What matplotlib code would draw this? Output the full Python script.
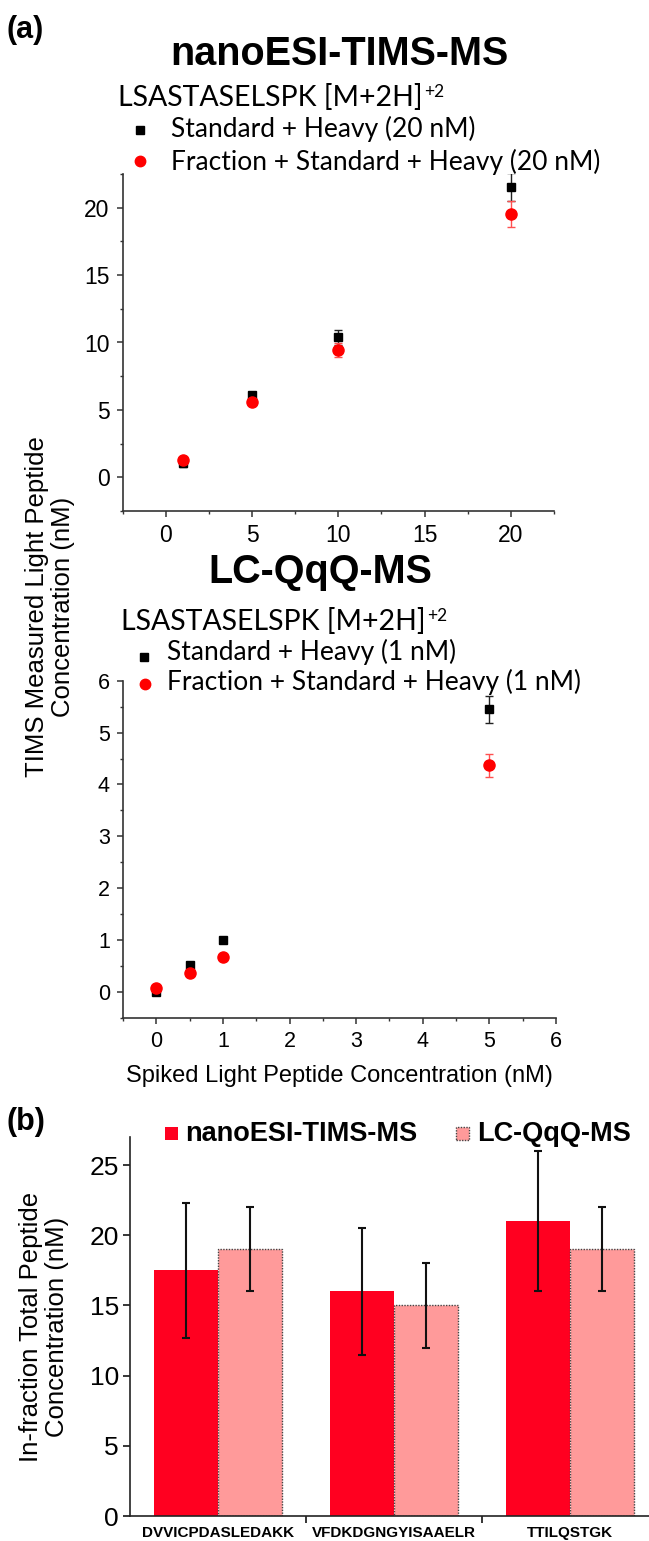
import matplotlib
matplotlib.use("Agg")
import matplotlib.pyplot as plt
from matplotlib.lines import Line2D
from matplotlib.patches import Rectangle
from matplotlib.ticker import MultipleLocator, FixedLocator

# ---------------- data ----------------
tims_x = [1, 5, 10, 20]
tims_std = [1.03, 6.1, 10.4, 21.55]
tims_std_err = [0.25, 0.25, 0.55, 1.05]
tims_frac = [1.28, 5.6, 9.45, 19.55]
tims_frac_err = [0.2, 0.2, 0.5, 0.95]

qqq_x = [0, 0.5, 1, 5]
qqq_std = [0.0, 0.52, 1.0, 5.45]
qqq_std_err = [0.03, 0.05, 0.03, 0.26]
qqq_frac = [0.08, 0.37, 0.68, 4.37]
qqq_frac_err = [0.03, 0.06, 0.04, 0.22]

peptides = ["DVVICPDASLEDAKK", "VFDKDGNGYISAAELR", "TTILQSTGK"]
bar_tims = [17.5, 16.0, 21.0]
bar_tims_err = [4.8, 4.5, 5.0]
bar_qqq = [19.0, 15.0, 19.0]
bar_qqq_err = [3.0, 3.0, 3.0]

# ---------------- style ----------------
W, H = 649, 1541
plt.rcParams["font.family"] = ["Liberation Sans", "DejaVu Sans"]
RED = "#FF0020"
PINK = "#FF9A9A"
CAL = ["Lato", "DejaVu Sans"]

fig = plt.figure(figsize=(W / 100, H / 100), dpi=100)


def fx(x):
    return x / W


def fy(y):
    return 1 - y / H


def ax_rect(l, r, t, b):
    return [fx(l), fy(b), (r - l) / W, (b - t) / H]


def style_axes(ax, labelsize):
    for s in ["top", "right"]:
        ax.spines[s].set_visible(False)
    for s in ["left", "bottom"]:
        ax.spines[s].set_linewidth(1.2)
        ax.spines[s].set_color("#333333")
    ax.tick_params(which="major", direction="out", length=4.5, width=1.1,
                   labelsize=labelsize, color="#333333", pad=5)
    ax.tick_params(which="minor", direction="out", length=2.5, width=1.0,
                   color="#333333")


# ---------------- top: nanoESI-TIMS-MS ----------------
ax1 = fig.add_axes(ax_rect(122.7, 554, 174, 511))
style_axes(ax1, 16.5)
ax1.errorbar(tims_x, tims_std, yerr=tims_std_err, fmt="s", color="black",
             ms=6, ecolor="#222222", elinewidth=1, capsize=3, zorder=3)
ax1.errorbar(tims_x, tims_frac, yerr=tims_frac_err, fmt="o", color="red",
             ms=8, ecolor="#FF5050", elinewidth=1, capsize=3, zorder=4)
ax1.set_xlim(-2.5, 22.5)
ax1.set_ylim(-2.5, 22.5)
ax1.xaxis.set_major_locator(MultipleLocator(5))
ax1.xaxis.set_minor_locator(MultipleLocator(2.5))
ax1.yaxis.set_major_locator(MultipleLocator(5))
ax1.yaxis.set_minor_locator(MultipleLocator(2.5))

# ---------------- middle: LC-QqQ-MS ----------------
ax2 = fig.add_axes(ax_rect(123, 556, 680.7, 1018))
style_axes(ax2, 15.5)
ax2.errorbar(qqq_x, qqq_std, yerr=qqq_std_err, fmt="s", color="black",
             ms=6, ecolor="#222222", elinewidth=1, capsize=3, zorder=3)
ax2.errorbar(qqq_x, qqq_frac, yerr=qqq_frac_err, fmt="o", color="red",
             ms=8, ecolor="#FF5050", elinewidth=1, capsize=3, zorder=4)
ax2.set_xlim(-0.5, 6)
ax2.set_ylim(-0.5, 6)
ax2.xaxis.set_major_locator(MultipleLocator(1))
ax2.xaxis.set_minor_locator(MultipleLocator(0.5))
ax2.yaxis.set_major_locator(MultipleLocator(1))
ax2.yaxis.set_minor_locator(MultipleLocator(0.5))
ax2.set_xlabel("Spiked Light Peptide Concentration (nM)", fontsize=17,
               labelpad=9)

# shared y label
fig.text(fx(50), fy(607), "TIMS Measured Light Peptide\nConcentration (nM)",
         rotation=90, ha="center", va="center", fontsize=18.5, linespacing=1.1)

# titles
fig.text(fx(7), fy(15), "(a)", fontsize=22, fontweight="bold", va="top")
fig.text(fx(339), fy(65), "nanoESI-TIMS-MS", fontsize=28.5, fontweight="bold",
         ha="center", va="baseline")
fig.text(fx(320), fy(583), "LC-QqQ-MS", fontsize=28.5, fontweight="bold",
         ha="center", va="baseline")

renderer = fig.canvas.get_renderer()


def peptide_title(x, y):
    t = fig.text(fx(x), fy(y), "LSASTASELSPK [M+2H]", fontsize=20.5,
                 family=CAL, va="baseline")
    bb = t.get_window_extent(renderer)
    fig.text(bb.x1 / W + 0.003, fy(y - 9), "+2",
             fontsize=12.5, family=CAL, va="baseline")


def legend_entry(mx, my, marker, color, ms, tx, ty, label):
    fig.add_artist(Line2D([fx(mx)], [fy(my)], marker=marker, color=color,
                          ms=ms, ls="none", transform=fig.transFigure))
    fig.text(fx(tx), fy(ty), label, family=CAL, fontsize=19, va="baseline")


peptide_title(118, 106)
legend_entry(140, 130, "s", "black", 6, 171, 137, "Standard + Heavy (20 nM)")
legend_entry(140, 161, "o", "red", 7.5, 171, 170,
             "Fraction + Standard + Heavy (20 nM)")

peptide_title(121, 630)
legend_entry(144, 657, "s", "black", 6, 167, 660, "Standard + Heavy (1 nM)")
legend_entry(145, 684, "o", "red", 7.5, 167, 690,
             "Fraction + Standard + Heavy (1 nM)")

# ---------------- bottom: bar chart ----------------
ax3 = fig.add_axes(ax_rect(130, 658, 1137, 1516))
for s in ["top", "right"]:
    ax3.spines[s].set_visible(False)
for s in ["left", "bottom"]:
    ax3.spines[s].set_linewidth(1.2)
    ax3.spines[s].set_color("#222222")
xs = list(range(len(peptides)))
bw = 0.364
ax3.bar([x - bw / 2 for x in xs], bar_tims, width=bw, color=RED,
        edgecolor="none", zorder=2)
ax3.bar([x + bw / 2 for x in xs], bar_qqq, width=bw, color=PINK,
        edgecolor="#444444", linestyle=(0, (1, 1)), linewidth=1.0, zorder=2)
ax3.errorbar([x - bw / 2 for x in xs], bar_tims, yerr=bar_tims_err,
             fmt="none", ecolor="#111111", elinewidth=1.5, capsize=3,
             capthick=1.5, zorder=3)
ax3.errorbar([x + bw / 2 for x in xs], bar_qqq, yerr=bar_qqq_err,
             fmt="none", ecolor="#111111", elinewidth=1.5, capsize=3,
             capthick=1.5, zorder=3)
ax3.set_xlim(-0.5, 2.5)
ax3.set_ylim(0, 27)
ax3.yaxis.set_major_locator(MultipleLocator(5))
ax3.set_xticks(xs)
ax3.set_xticklabels(peptides, fontsize=11, fontweight="bold")
ax3.xaxis.set_minor_locator(FixedLocator([0.5, 1.5]))
ax3.tick_params(axis="x", which="major", length=0, pad=7)
ax3.tick_params(axis="x", which="minor", direction="out", length=5, width=1.1)
ax3.tick_params(axis="y", which="major", direction="out", length=5, width=1.1,
                labelsize=19, pad=3)

fig.text(fx(44), fy(1327), "In-fraction Total Peptide\nConcentration (nM)",
         rotation=90, ha="center", va="center", fontsize=18.5, linespacing=1.1)
fig.text(fx(7), fy(1107), "(b)", fontsize=22, fontweight="bold", va="top")

# bar legend
fig.add_artist(Rectangle((fx(165), fy(1140)), 13 / W, 13 / H, facecolor=RED,
                         edgecolor="none", transform=fig.transFigure))
fig.text(fx(185), fy(1134), "nanoESI-TIMS-MS", fontsize=19.5,
         fontweight="bold", va="center")
fig.add_artist(Rectangle((fx(456), fy(1140)), 13 / W, 13 / H, facecolor=PINK,
                         edgecolor="#444444", linestyle=(0, (1, 1)),
                         linewidth=1.0, transform=fig.transFigure))
fig.text(fx(477), fy(1134), "LC-QqQ-MS", fontsize=19.5, fontweight="bold",
         va="center")

fig.savefig("out.png", dpi=100)
